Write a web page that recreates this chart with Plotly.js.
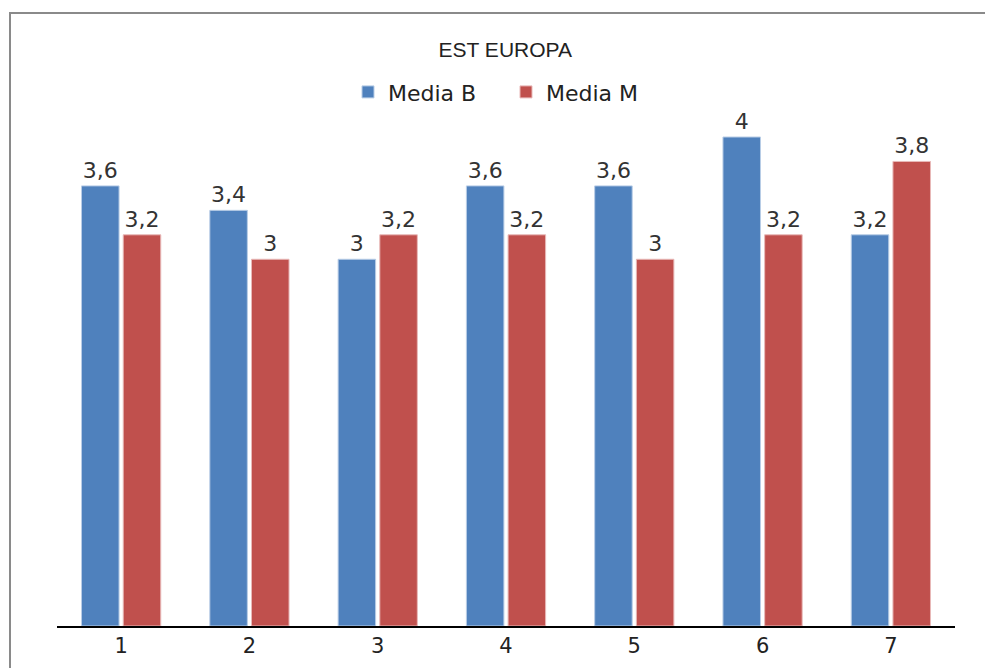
<!DOCTYPE html>
<html>
<head>
<meta charset="utf-8">
<script src="https://cdn.plot.ly/plotly-3.0.1.min.js"></script>
<style>
html,body{margin:0;padding:0;background:#fff;overflow:hidden;}
#chart{width:985px;height:668px;position:relative;}
#frame{position:absolute;left:9px;top:12px;width:2000px;height:2000px;border:2px solid #8a8a8a;pointer-events:none;box-sizing:border-box;}
</style>
</head>
<body>
<div id="chart"></div>
<div id="frame"></div>
<script>
const categories = ['1','2','3','4','5','6','7'];
const mediaB = [3.6, 3.4, 3, 3.6, 3.6, 4, 3.2];
const mediaM = [3.2, 3, 3.2, 3.2, 3, 3.2, 3.8];
const seriesNames = ['Media B', 'Media M'];
const chartTitle = 'EST EUROPA';

const FONT = 'DejaVu Sans, sans-serif';
const TFONT = 'Liberation Sans, Arial, sans-serif';
const traces = [
  {type:'bar', x:categories, y:mediaB, name:seriesNames[0],
   marker:{color:'#4F81BD', line:{color:'#b9cde6', width:1}},
   texttemplate:'%{y}', textposition:'outside', cliponaxis:false, constraintext:'none',
   textfont:{family:FONT, size:22, color:'#333'}},
  {type:'bar', x:categories, y:mediaM, name:seriesNames[1],
   marker:{color:'#C0504D', line:{color:'#e8b9b8', width:1}},
   texttemplate:'%{y}', textposition:'outside', cliponaxis:false, constraintext:'none',
   textfont:{family:FONT, size:22, color:'#333'}}
];
const layout = {
  width:985, height:668,
  margin:{l:57, r:30, t:100, b:42},
  paper_bgcolor:'#fff', plot_bgcolor:'#fff',
  separators:',.',
  font:{family:FONT, color:'#222'},
  title:{text:chartTitle, x:0.513, xanchor:'center', y:1-50/668, yanchor:'middle', yref:'container',
         font:{family:TFONT, size:21, color:'#222'}},
  showlegend:true,
  legend:{orientation:'h', x:0.5, xanchor:'center', y:1.015, yanchor:'middle',
          font:{family:FONT, size:22, color:'#222'}, itemwidth:30, traceorder:'normal',
          entrywidth:113, entrywidthmode:'pixels'},
  bargap:0.35, bargroupgap:0.1,
  xaxis:{showline:true, linecolor:'#000', linewidth:2, ticks:'', showgrid:false,
         tickfont:{family:FONT, size:21, color:'#222'}, fixedrange:true},
  yaxis:{range:[0, 526/122.25], visible:false, showgrid:false, zeroline:false}
};
Plotly.newPlot('chart', traces, layout, {displayModeBar:false, staticPlot:true});
</script>
</body>
</html>
